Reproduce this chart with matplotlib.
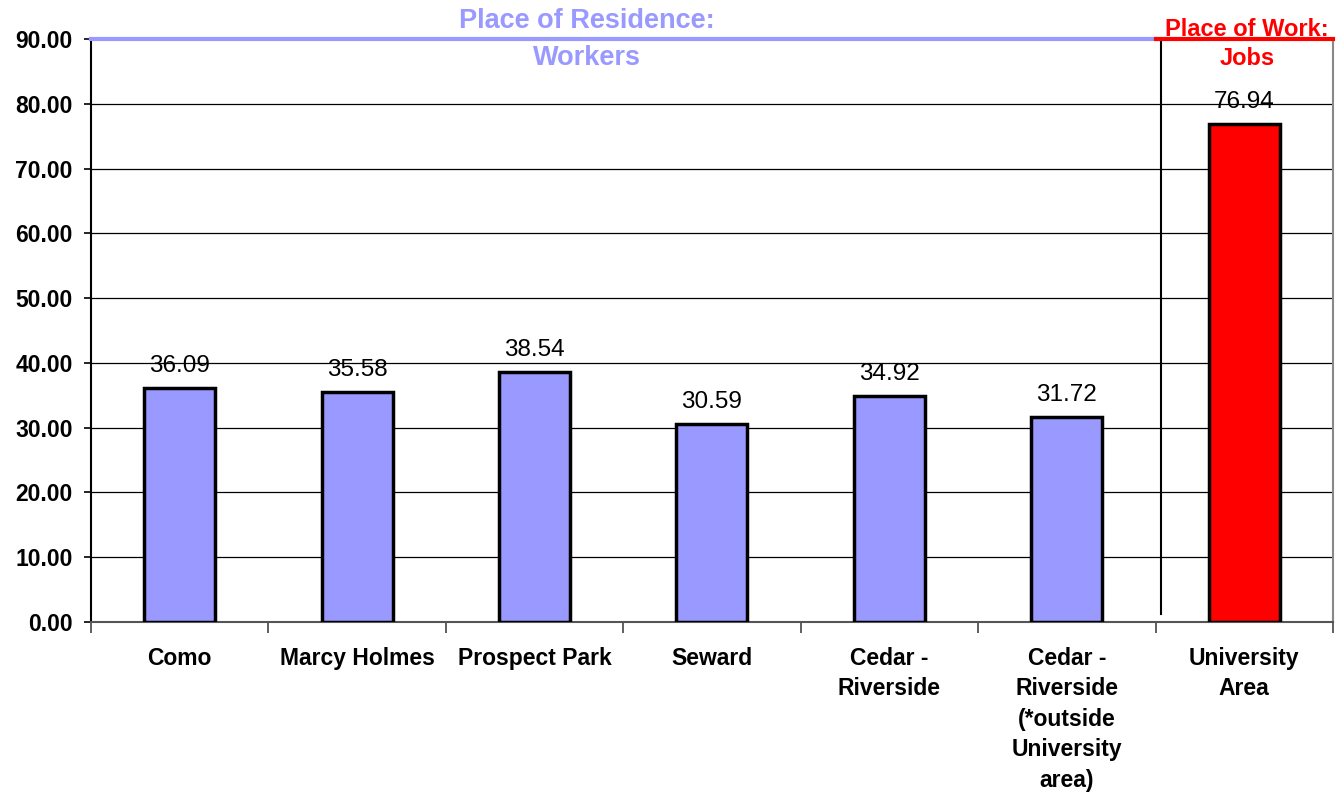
import numpy as np
import matplotlib
matplotlib.use("Agg")
import matplotlib.pyplot as plt

plt.rcParams['font.family'] = ['Liberation Sans', 'DejaVu Sans']

categories = ["Como", "Marcy Holmes", "Prospect Park", "Seward",
              "Cedar -\nRiverside", "Cedar -\nRiverside\n(*outside\nUniversity\narea)",
              "University\nArea"]
values = [36.09, 35.58, 38.54, 30.59, 34.92, 31.72, 76.94]
bar_colors = ["#9999FF"] * 6 + ["#FF0000"]
yticks = np.arange(0, 91, 10)

fig = plt.figure(figsize=(13.37, 7.92), dpi=100)
ax = fig.add_axes([0.068, 0.2146, 0.929, 0.7362])

x = np.arange(len(values))
ax.bar(x, values, width=0.4, color=bar_colors, edgecolor="black", linewidth=2.5, zorder=3)

for xi, v in zip(x, values):
    ax.annotate(f"{v:.2f}", (xi, v), xytext=(0, 11.5), textcoords="offset points",
                ha="center", va="baseline", fontsize=17.5, zorder=4)

ax.set_xlim(-0.5, 6.5)
ax.set_ylim(0, 90)
ax.set_yticks(yticks)
ax.set_yticklabels([f"{t:.2f}" for t in yticks], fontsize=16.5, fontweight="bold")
for t in yticks[1:-1]:
    ax.axhline(t, color="black", linewidth=0.9, zorder=1)

# category boundaries as ticks
ax.set_xticks(np.arange(-0.5, 7.0, 1.0))
ax.set_xticklabels([])
ax.set_xticks(x, minor=True)
ax.set_xticklabels(categories, minor=True, fontsize=16.5, fontweight="bold", linespacing=1.41,
                   va="top")
ax.tick_params(axis="x", which="major", length=8, width=1.2, color="#444444", direction="out")
ax.tick_params(axis="x", which="minor", length=0, pad=18)
ax.tick_params(axis="y", length=5, width=1.2, pad=8)

ax.spines["top"].set_visible(False)
ax.spines["left"].set_color("black")
ax.spines["left"].set_linewidth(1.5)
ax.spines["bottom"].set_color("#555555")
ax.spines["bottom"].set_linewidth(1.5)
ax.spines["right"].set_color("#888888")
ax.spines["right"].set_linewidth(1.5)

# section header lines
ax.plot([-0.5, 5.5], [90, 90], color="#9999FF", linewidth=3, clip_on=False, zorder=5)
ax.plot([5.5, 6.5], [90, 90], color="#FF0000", linewidth=3, clip_on=False, zorder=5)
ax.plot([5.53, 5.53], [1.2, 90], color="black", linewidth=1.5, zorder=2)

ax.text(2.295, 91.7, "Place of Residence:", ha="center", va="baseline", fontsize=19.5,
        fontweight="bold", color="#9999FF", clip_on=False)
ax.text(2.295, 86.0, "Workers", ha="center", va="baseline", fontsize=19.5,
        fontweight="bold", color="#9999FF")
ax.text(6.015, 90.5, "Place of Work:", ha="center", va="baseline", fontsize=17,
        fontweight="bold", color="#FF0000", clip_on=False)
ax.text(6.015, 86.0, "Jobs", ha="center", va="baseline", fontsize=17,
        fontweight="bold", color="#FF0000")

fig.savefig("out.png", dpi=100)
